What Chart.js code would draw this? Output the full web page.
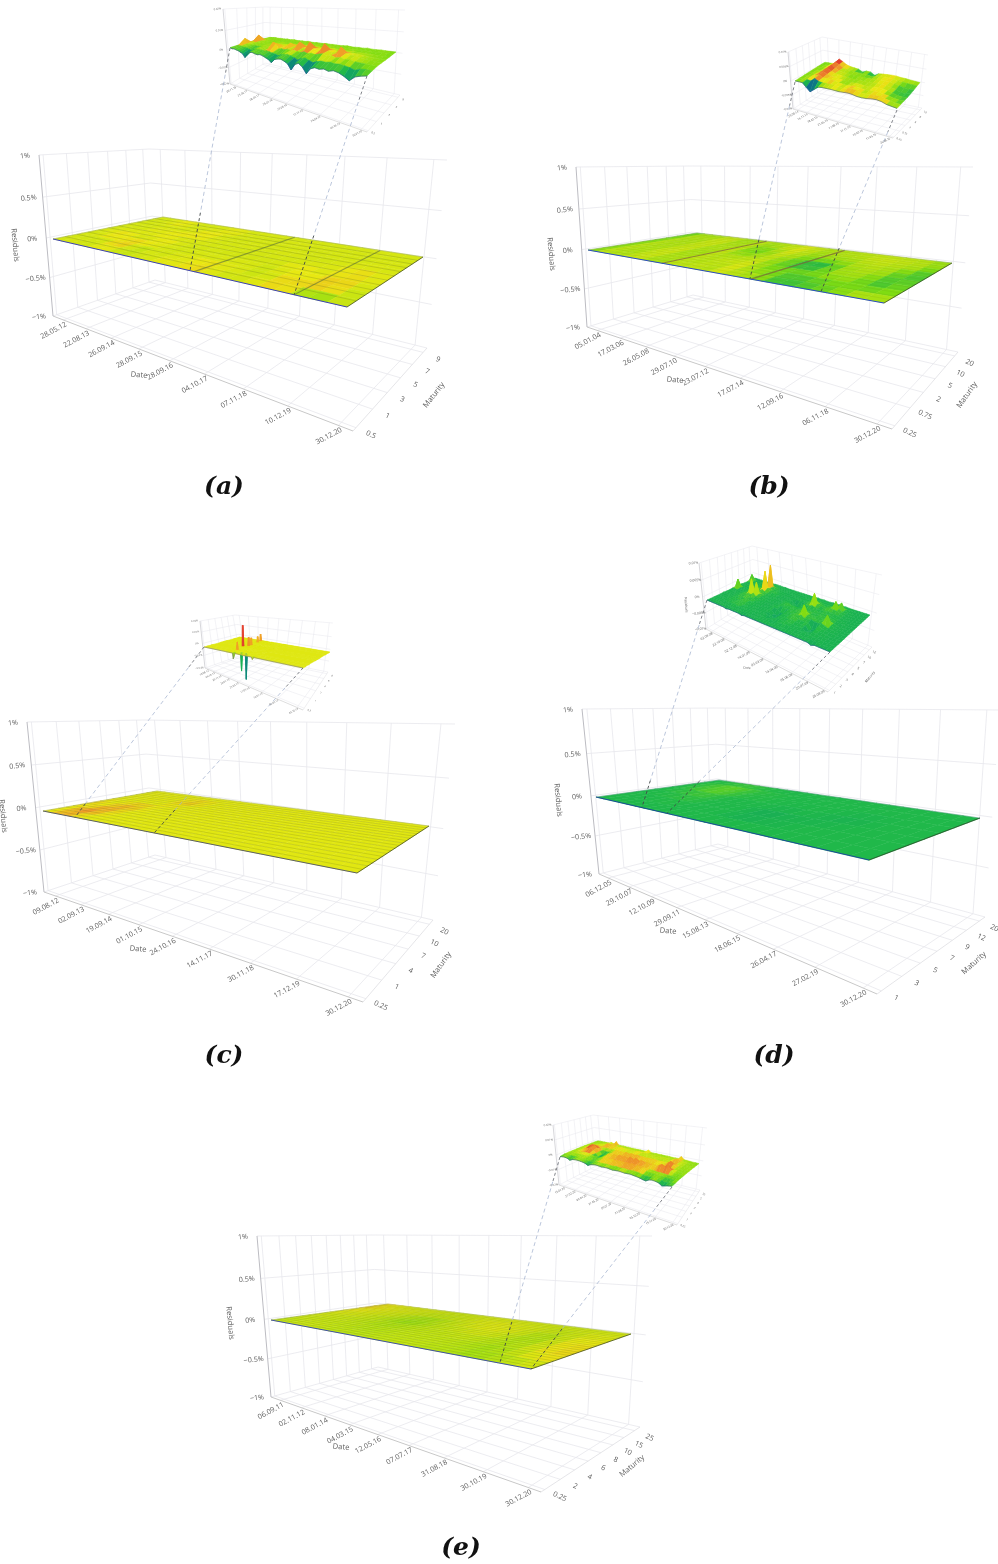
<!DOCTYPE html>
<html><head><meta charset="utf-8">
<style>html,body{margin:0;padding:0;background:#fff}#c{display:block;filter:blur(.4px)}</style>
<script src="https://cdn.jsdelivr.net/npm/chart.js@4"></script></head>
<body><canvas id="c" width="998" height="1564"></canvas>
<script>
// ---------- tick labels ----------
const zTicksMain=["1%","0.5%","0%","−0.5%","−1%"];
const datesA=["28.05.12","22.08.13","26.09.14","28.09.15","28.09.16","04.10.17","07.11.18","10.12.19","30.12.20"];
const datesB=["05.01.04","17.03.06","26.05.08","29.07.10","23.07.12","17.07.14","12.09.16","06.11.18","30.12.20"];
const datesC=["09.08.12","02.09.13","19.09.14","01.10.15","24.10.16","14.11.17","30.11.18","17.12.19","30.12.20"];
const datesD=["06.12.05","29.10.07","12.10.09","29.09.11","15.08.13","18.06.15","26.04.17","27.02.19","30.12.20"];
const datesE=["06.09.11","02.11.12","08.01.14","04.03.15","12.05.16","07.07.17","31.08.18","30.10.19","30.12.20"];
const matsA=["0.5","1","3","5","7","9"];
const matsB=["0.25","0.75","2","5","10","20"];
const matsC=["0.25","1","4","7","10","20"];
const matsD=["1","3","5","7","9","12","20"];
const matsE=["0.25","2","4","6","8","10","15","25"];
const zTicksInsetA=["0.02%","0.01%","0%","−0.01%","−0.02%"];
const zTicksInsetB=["0.01%","0.005%","0%","−0.005%","−0.01%"];
const zTicksInsetC=["0.04%","0.02%","0%","−0.02%","−0.04%"];
const zTicksInsetD=["0.01%","0.005%","0%","−0.005%","−0.01%"];
const zTicksInsetE=["0.02%","0.01%","0%","−0.01%","−0.02%"];
const insetDatesA=["06.11.16","23.04.17","06.09.17","26.01.18","23.06.18","17.11.18","24.04.19","09.09.19","30.01.20"];
const insetDatesB=["23.08.14","16.11.14","18.02.15","21.05.15","17.08.15","11.11.15","10.02.16","11.05.16","26.08.16"];
const insetDatesC=["10.08.12","04.10.12","30.11.12","24.01.13","21.03.13","17.05.13","12.07.13","06.09.13","02.10.13"];
const insetDatesD=["02.09.08","22.10.08","02.12.08","14.01.09","03.03.09","14.04.09","05.06.09","20.07.09","26.08.09"];
const insetDatesE=["15.01.20","27.02.20","09.04.20","27.05.20","09.07.20","21.08.20","05.10.20","19.11.20","30.12.20"];
const insetMatsA=["0.5","1","3","5","9"];
const insetMatsB=["0.25","0.75","2","4","6","10"];
const insetMatsC=["0.5","1","2","4","6","8"];
const insetMatsD=["1","2","3","4","5","7","10","12"];
const insetMatsE=["0.25","1","2","3","4","5","10"];

// ---------- residuals, unit 0.001 % (rows: maturity low to high, cols: date) ----------
const surfaceA=[
[.6,.6,.7,.5,.6,.8,.6,.6,.5,.7,.8,1,.6,1.4,.8,.6,.5,.7,.7,.9,.6,-1.5,.6,.6],
[.6,.7,.7,.6,.7,1.2,.8,.2,.6,.6,.6,1,.7,1.5,1,.7,.7,.6,1.1,2,.7,1,.2,.6],
[.6,.6,.5,.7,.6,2,1.2,.4,.7,.7,.6,.7,.7,.8,.7,.8,.6,.3,.6,.9,1.2,2.5,.7,.6],
[.7,.7,1,1.6,.7,.8,.7,1.4,.7,.6,.6,.7,.6,.6,.7,.6,.7,.7,1.3,.8,.7,1,.7,.7],
[.6,.7,.8,.7,.6,.7,.7,.7,.8,.7,.6,.6,.7,.6,.6,.6,.6,.6,.7,.8,.7,1.6,1.2,.6],
[.6,.6,.7,.7,1,.7,1.4,.7,.6,.7,.7,.7,.6,.7,.6,.7,.7,.7,.6,.7,.7,.8,.7,.7],
[.7,.7,.6,.6,.8,.7,.7,.9,1.5,.8,.6,.6,.7,.7,.6,.6,.7,.6,.6,.6,.7,.7,.7,.6],
[.6,.6,.7,.7,.7,.6,.7,.7,.7,.7,.7,.6,.6,.6,.7,.7,.6,.6,.7,.7,.6,.6,.7,.7],
[.6,.7,.6,1,1.2,.7,.6,.7,.8,1.2,.7,.7,.7,.6,.6,.7,.7,.7,.6,.6,.7,.7,.6,.6],
[.7,.6,.7,.7,.7,.6,.7,.6,.6,.7,.6,.6,.7,.7,.7,.6,.6,.6,.7,.7,.6,.7,.7,.7]];
const surfaceB=[
[-.8,-.5,.1,-.6,0,-.3,.2,-.9,.1,-.4,.1,-.3,0,.2,-.5,.2,-1.2,-1.6,-1.4,-1.2,-.8,-.3,.1,-.5],
[-.9,-.4,.1,-.7,.1,-.3,.2,-.8,.1,-.5,.1,-.4,-.1,.2,-.6,-.4,-1.4,-1.7,-1.5,-1.2,-.9,-.7,-.5,-.6],
[-.8,-.5,0,-.6,0,-.2,.1,-.7,.2,-.5,0,-.3,.2,.1,-.7,-.7,-1,-1.2,-1,-.7,-.6,-1.2,-1.4,-.6],
[-.8,-.4,.1,-.6,.1,-.2,.2,-.9,.1,-.4,.1,-.3,.1,-.2,-.8,-1,-1.1,-.8,-.5,-.3,-.6,-1.3,-1.6,-.6],
[-.9,-.5,0,-.7,0,-.3,.2,-.8,.1,-.4,-.3,-.5,0,-.3,-.8,-1.6,-2.6,-2,-.6,-.3,-.4,-.5,-1.8,-.8],
[-1,-.5,.1,-.6,.1,-.3,.1,-.7,.2,-.4,-.8,-.7,-.2,-.1,-.7,-1.1,-1.4,-1.1,-.5,-.2,-.3,-.5,-1.5,-1.4],
[-1,-.6,0,-.7,0,-.2,.2,-.7,.1,-.5,-1,-.8,-.1,.1,-.5,-.6,-.5,-.5,-.3,-.1,-.2,-.3,-.5,-1.6],
[-1.1,-.6,.1,-.6,.1,-.2,.1,-.8,.1,-.5,-.6,-.3,.1,.1,-.4,-.4,-.3,-.3,-.2,0,-.1,-.2,-.3,-.8],
[-1.1,-.7,0,-.7,.1,-.3,.1,-.8,.1,-.5,-.2,-.2,.1,.2,-.3,-.3,-.2,-.2,-.1,0,-.1,-.1,-.3,-.6],
[-1.2,-.7,-.1,-.7,0,-.3,0,-.8,0,-.5,-.2,-.3,0,.1,-.3,-.3,-.3,-.2,-.2,-.1,-.2,-.2,-.3,-.7]];
const surfaceC=[
[0,0,1,.4,0,0,0,0,0,0,0,0,0,0,0,0,0,0,0,0,0,0,0,0],
[0,.6,2.5,1.2,0,0,0,0,0,0,0,0,0,0,0,0,0,0,0,0,0,0,0,0],
[0,0,1.5,1.8,1,0,0,0,0,0,0,0,0,0,0,0,0,0,0,0,0,0,0,0],
[1,0,.5,1.2,.8,0,0,0,0,0,0,0,0,0,0,0,0,0,0,0,0,0,0,0],
[.8,0,0,1,1.4,.6,0,0,0,0,0,0,0,0,0,0,0,0,0,0,0,0,0,0],
[0,0,0,0,0,0,0,0,0,0,0,0,0,0,0,0,0,0,0,0,0,0,0,0],
[0,0,0,0,0,0,.8,0,0,0,0,0,0,0,0,0,0,0,0,0,0,0,0,0],
[0,0,0,0,0,0,1,1,0,0,0,0,0,0,0,0,0,0,0,0,0,0,0,0],
[0,0,0,0,0,0,0,0,0,0,0,0,0,0,0,0,0,0,0,0,0,0,0,0],
[0,0,0,0,0,0,0,0,0,0,0,0,0,0,0,0,0,0,0,0,0,0,0,0]];
const surfaceD=[
[-2,-2,-2,-2,-2,-2,-2,-2,-2,-2,-2,-2,-2,-2,-2,-2,-2,-2,-2,-2,-2,-2,-2,-2],
[-2,-2,-2,-2,-2,-2,-2,-2,-2,-2,-2,-2,-2.1,-2.1,-2,-2,-2.1,-2,-2,-2,-2,-2,-2,-2],
[-2,-2,-2,-2,-1.9,-1.9,-1.8,-2,-2,-2,-2,-2.1,-2.5,-2.6,-2.5,-2.3,-2.2,-2,-2,-2,-2,-2,-2,-2],
[-2,-2,-1.9,-1.8,-1.7,-1.6,-1.7,-1.9,-2,-2,-2,-2,-2.2,-2.3,-2.2,-2.1,-2.2,-2.3,-2.2,-2.1,-2,-2,-2,-2],
[-2,-1.9,-1.7,-1.6,-1.4,-1.3,-1.6,-1.9,-2,-2,-2,-2,-2,-2.1,-2,-2,-2.1,-2.2,-2.3,-2.2,-2,-2,-2,-2],
[-2,-1.8,-1.4,-1,-.6,-.8,-1.2,-1.6,-1.8,-1.8,-1.9,-2,-2,-2,-2,-2,-2,-2,-2,-2,-2,-2,-2,-2],
[-2,-1.9,-1.6,-1.5,-1.2,-1.3,-1.6,-1.8,-1.9,-2,-2,-2,-2,-2,-2,-2,-2,-2,-2,-2,-2,-2,-2,-2],
[-2,-2,-1.9,-1.9,-1.8,-1.8,-1.9,-2,-2,-2,-2,-2,-2,-2,-2,-2,-2,-2,-2,-2,-2,-2,-2,-2]];
const surfaceE=[
[-.2,-.2,-.1,0,0,0,-.1,-.2,-.2,-.3,-.2,-.2,-.2,-.2,-.1,-.1,-.3,-.2,-.4,-.6,-.5,-.4,-.3,-.1],
[0,-.1,-.1,0,-.1,-.1,-.2,-.2,-.3,-.3,-.3,-.2,-.1,-.1,-.2,-.2,-.4,-.3,-.7,-.8,-.4,-.1,.3,.6],
[.1,0,0,-.1,-.1,-.2,-.2,-.3,-.4,-.4,-.3,-.2,-.2,-.2,-.2,-.1,-.2,-.3,-.5,-.4,-.1,.3,.8,1],
[.2,.2,.1,.1,0,-.2,-.3,-.4,-.6,-.6,-.4,-.3,-.2,-.1,-.1,0,0,-.2,-.3,-.5,-.2,.4,1,.9],
[.5,.4,.3,.2,.1,0,-.2,-.5,-.8,-1,-.7,-.3,-.1,0,.2,.3,.3,.1,-.2,-.6,-.3,.3,.8,.5],
[1,.7,.5,.3,.2,.2,0,-.2,-.3,-.3,-.2,-.1,.1,.3,.4,.4,.3,.2,0,-.3,-.2,.2,.5,.3],
[1.5,1,.6,.4,.3,.2,.2,.1,0,0,0,.1,.2,.2,.3,.3,.2,.1,.1,0,0,.1,.2,.2],
[.5,.4,.3,.2,.2,.1,.1,.1,0,0,0,0,.1,.1,.1,.1,.1,.1,0,0,0,.1,.1,.1]];

const insetA=[
[.2,-.2,0,-.3,-.5,-1,-1.5,-3,-1,-.2,0,-.3,-.5,-.2,-.5,-1,-1.5,-2.5,-1,-.5,-.3,-.8,-1.5,-3.5,-1.2,-.5,-1.5,-3.5,-1.5,-.8,-1,-.6,-1,-.5,-.8,-1.5,-2.5,-1,-.4,0],
[.4,.7,.5,.4,.3,.1,-.3,-.8,0,.5,.6,.4,.3,.6,.3,0,-.2,-.6,0,.4,.6,.3,-.2,-.8,0,.5,-.1,-.7,0,.4,.3,.6,.3,.5,.3,0,-.5,.2,.4,.3],
[.6,3.5,.9,.7,.6,.5,.6,.5,.7,.9,.7,.9,.8,3.5,3,1,1.2,1,1.4,1,1.5,1.1,.9,1.4,1,1.3,1,1.5,1.8,1.2,1.6,1.1,1.4,1,1.2,.8,.7,.6,.5,.5],
[.7,1,1.4,.9,.7,.6,.7,.6,.7,.8,1,1.2,1,1.4,1.5,1.3,1.8,3,1.6,1.8,4,1.7,1.5,4.5,2,1.6,2,4.5,2,1.5,1.6,4,1.8,1.4,1.5,1.1,.9,.7,.6,.5],
[.6,.9,4,1,.8,.7,.6,.5,.6,.8,.9,1,.8,.9,1,.8,1,1.3,1.1,1.3,1.5,1.2,1.4,1.6,1.3,1.4,1.2,1.6,1.3,1.2,1.3,1.4,1.1,1.1,1,.9,.7,.6,.5,.4],
[.6,.6,1,.7,.6,.5,.4,.5,.6,.5,.6,.5,.6,.5,.4,.6,.5,.7,.6,.7,.6,.8,.6,.7,.6,.8,.7,.8,.6,.7,.8,.6,.7,.6,.6,.5,.5,.4,.4,.4],
[.4,.6,.6,.4,.5,.6,.4,.6,.5,.4,.5,.6,.4,.5,.6,.4,.5,.4,.6,.5,.4,.6,.5,.4,.6,.5,.6,.4,.5,.6,.4,.5,.4,.6,.5,.4,.5,.6,.4,.4],
[.4,.4,.6,.6,.4,.5,.4,.4,.6,.4,.5,.6,.4,.4,.5,.4,.6,.4,.4,.5,.4,.4,.6,.4,.5,.4,.4,.5,.6,.4,.4,.5,.4,.6,.4,.4,.5,.4,.4,.4]];
const insetB=[
[.5,.6,.6,-1,-2.5,-1,.5,.8,.9,1,1,1,1.2,1.4,1.3,1,1,1.2,1.6,1.8,1.6,1,.8,.6],
[.5,.6,.7,.5,2,1.2,1,1.2,1.2,1.3,1,1,1.4,1.7,1.5,1.1,1,1.2,1.4,1.6,1.2,.8,.6,.5],
[.5,.6,.8,1.6,2.4,1.5,1.5,1.6,1.4,1,.8,.8,1,1.2,1,.8,1,1.2,1.3,1,.8,.4,.2,.4],
[.5,.6,.8,1.6,2.6,1.7,1.4,1.3,1,.8,.6,.7,.8,.8,.7,.8,1,1.3,1.2,.9,.5,0,-.1,.3],
[.5,.6,.7,1.5,2.8,1.8,1.2,1,.8,.7,.6,.6,.7,.7,.7,.9,1.1,1.3,1.2,.9,.5,-.2,-.3,.3],
[.5,.5,.7,1.5,3,2,1.1,.9,.7,.7,.5,.6,.6,.7,.8,1,1.2,1.3,1.2,1,.7,.2,0,.4],
[.5,.5,.6,1.3,3.2,2.4,1.2,.8,.7,.6,.5,.5,.6,.2,.7,1,1.2,1.3,1.2,1,.9,.7,.6,.6],
[.4,.5,.6,1,3.5,2.6,1.5,1,.8,.6,-.3,.5,.5,-.6,.5,.8,1,1.2,1.2,1,1,.8,.7,.6]];
// inset (c) has a few isolated spikes, so its dates and maturities are listed as fractions of the axis
const insetCDateAt=[0,.265,.276,.287,.3,.312,.323,.34,.35,.36,.4,.41,.42,.45,.46,.47,.54,.55,.56,1];
const insetCMatAt=[0,.05,.07,.09,.17,.19,.21,.41,.43,.45,.49,.51,.53,.56,.58,.6,.8,.82,.84,.93,.95,.97,1];
const insetC=[
[0,0,0,0,0,0,0,0,-8,0,0,0,0,0,0,0,0,-3,0,0],
[0,0,0,0,0,0,0,0,0,0,0,0,0,0,0,0,0,0,0,0],
[0,0,0,0,0,0,0,0,0,0,0,-25,0,0,-35,0,0,0,0,0],
[0,0,0,0,0,0,0,0,0,0,0,0,0,0,0,0,0,0,0,0],
[0,0,0,0,0,0,0,0,0,0,0,0,0,0,0,0,0,0,0,0],
[0,0,0,0,0,12,0,0,0,0,0,0,0,0,0,0,0,0,0,0],
[0,0,0,0,0,0,0,0,0,0,0,0,0,0,0,0,0,0,0,0],
[0,0,0,0,0,0,0,0,0,0,0,0,0,0,0,0,0,0,0,0],
[0,0,33,0,0,0,0,0,0,0,0,0,0,0,0,0,0,0,0,0],
[0,0,0,0,0,0,0,0,0,0,0,0,0,0,0,0,0,0,0,0],
[0,0,0,0,0,0,0,0,0,0,0,0,0,0,0,0,0,0,0,0],
[0,0,0,0,0,14,0,0,0,0,0,0,0,0,0,0,0,0,0,0],
[0,0,0,0,0,0,0,0,0,0,0,0,0,0,0,0,0,0,0,0],
[0,0,0,0,0,0,0,0,0,0,0,0,0,0,0,0,0,0,0,0],
[0,0,0,0,0,12,0,0,0,0,0,0,0,0,0,0,0,0,0,0],
[0,0,0,0,0,0,0,0,0,0,0,0,0,0,0,0,0,0,0,0],
[0,0,0,0,0,0,0,0,0,0,0,0,0,0,0,0,0,0,0,0],
[0,0,0,0,10,0,0,0,0,0,0,0,0,0,0,0,0,0,0,0],
[0,0,0,0,0,0,0,0,0,0,0,0,0,0,0,0,0,0,0,0],
[0,0,0,0,0,0,0,0,0,0,0,0,0,0,0,0,0,0,0,0],
[0,0,0,12,0,0,0,0,0,0,0,0,0,0,0,0,0,0,0,0],
[0,0,0,0,0,0,0,0,0,0,0,0,0,0,0,0,0,0,0,0],
[0,0,0,0,0,0,0,0,0,0,0,0,0,0,0,0,0,0,0,0]];
const insetD=[
[0,0,0,0,0,0,0,0,-.2,0,0,0,0,0,-.2,0,0,0,0,0,0,0,0,0,0,0,0,0,0,0,0,0,0,0,0,0,-.3,0,0,0,0,0],
[0,0,0,.1,0,.1,0,.2,0,.1,.2,0,.2,0,.1,0,0,0,.1,0,.1,0,.2,0,.1,.1,0,.2,0,.2,.1,0,.2,0,.1,.1,0,.1,0,0,0,0],
[0,.1,0,0,.1,.2,.1,.3,.2,.4,.1,.3,.1,.2,0,.1,0,0,.1,.2,0,.1,.2,-.2,.1,.2,.1,.4,.2,.1,.2,.1,.3,.1,.2,.1,.1,0,0,0,0,0],
[0,0,.1,0,.2,.1,.4,.2,.6,.3,.8,.2,.3,.1,.2,0,.1,0,0,.2,.1,-.3,-.2,.2,.3,.1,.5,.2,.3,.2,.2,.3,-.3,-.2,.3,.2,.1,.1,0,0,0,0],
[0,0,0,.1,.1,.3,.2,.5,.3,.7,.3,.5,.2,.2,.1,.1,0,0,.1,.1,-.4,-.6,-.3,.3,.2,.4,.3,.6,.4,.3,.2,.4,-.6,-.5,.4,.2,.2,.1,0,0,0,0],
[.1,0,0,0,.2,.2,.5,.4,.8,.5,1,.4,.4,.2,.2,.1,.1,0,0,.2,-.5,-.7,-.4,.4,.3,.5,.6,.9,.5,.4,.3,.6,-.7,-.6,.6,.3,.2,.1,.1,0,0,0],
[0,.1,0,.1,.1,.3,.4,.8,.6,1.2,.6,.8,.3,.3,.1,.1,0,.1,.1,.4,.2,-.4,-.3,.4,.5,.4,.8,.6,1,.5,.6,.8,.6,.5,.8,.5,.2,.2,.1,0,0,0],
[0,0,.1,0,.2,.2,.6,.5,1,.8,1.4,.8,.5,.2,.2,.1,.1,0,.2,.3,.5,.6,.3,.5,.4,.7,.6,1,3,.8,.5,.7,.6,.6,.9,2.5,.4,.2,.1,0,0,0],
[.1,.1,0,.1,.1,.3,.5,.9,4.5,1,4,1,.6,.4,.2,.1,.1,.1,0,.2,.3,.4,.6,.4,.6,.5,.8,.6,.9,.5,.4,.5,.7,.5,.7,.6,.3,.1,0,0,0,0],
[.2,2.5,.2,.1,.1,.2,.4,.6,.8,.9,.8,.7,.5,.3,.3,.2,.1,0,.1,.3,.5,.7,.4,.3,.4,.3,.5,.4,.6,.4,.5,.4,.6,.5,.6,.5,.3,.2,.1,0,0,0],
[.1,.3,.1,0,.1,.2,.3,.5,.6,.8,1.2,.9,.6,.4,.2,.1,0,.1,.1,.2,.1,.3,-.2,-.3,.2,.4,.2,.3,.5,.6,.4,.5,.4,.6,.4,.3,.2,.1,0,0,0,0],
[.1,.1,0,.1,.1,.1,.3,.5,.9,1.2,6,1.4,.8,.6,.4,.2,.1,0,.1,.1,.2,-.3,-.6,-.5,.2,.3,.5,.8,.6,.5,.3,.5,.7,.6,.5,.4,.2,.1,0,0,0,0],
[0,0,.1,0,0,.1,.2,.4,.6,.8,1.2,1,.7,.4,.3,.2,.1,.1,0,.1,.1,.2,.1,.2,.3,.6,1.2,3.5,1,.7,.5,.8,1.1,.9,.8,.5,.2,.1,0,0,0,0],
[0,.1,0,0,.1,.1,.2,.3,.5,.7,7,1,.6,.3,.2,.1,0,0,.1,0,.1,.1,.2,.1,.2,.4,.6,1,.6,.4,.3,.6,.9,2.5,1,.4,.2,.1,0,0,0,0],
[.2,2,.2,.1,0,.1,.1,.2,.3,.4,.5,.4,.3,.2,.1,.1,0,0,0,.1,0,.1,.1,.2,.1,.3,.2,.4,.3,.2,.2,.3,.4,.6,2,.3,.1,0,0,0,0,0],
[0,.2,.1,0,0,0,.1,.1,.2,.2,.3,.2,.2,.1,.1,0,0,.1,0,0,.1,0,.1,.1,.1,.1,.2,.1,.2,.1,.1,.1,.2,.2,.2,.1,.1,0,0,0,0,0],
[0,0,0,0,0,0,0,.1,0,.1,.1,.1,0,.1,0,0,0,0,0,0,0,0,0,0,0,.1,0,.1,0,0,.1,0,.1,0,.1,0,0,0,0,0,0,0]];
const insetE=[
[.3,.6,.7,.4,-.4,.5,.8,.9,.8,.6,.2,-.6,.3,.7,1,.9,.7,.9,1,.8,.6,.8,1,.9,.7,.8,1,.7,.5,.2,-.3,-.6,.5,.9,.7,.3,-1,-.4,.1,.4],
[.9,1,1.1,1.2,.9,1.1,1.3,1.1,.9,.7,.4,.1,.9,1.2,1.4,1.2,1.3,1.5,1.2,1.3,1.5,1.3,1.4,1.6,1.3,1.4,1.6,1.4,1.2,.8,.5,.3,.8,1.1,.8,.4,-.4,0,.4,.6],
[1,1.2,1.3,1.4,1.4,1.5,1.6,1.5,1.2,1,.7,.6,1.2,1.3,3,1.4,3,1.5,3.5,1.6,3.5,1.6,4,1.7,4,1.8,3.5,1.7,3,1.5,1.2,1,1,1.2,1,.7,.4,.5,.7,.9],
[1.1,1.3,1.4,1.5,1.6,1.8,2,1.8,1.4,.8,.3,.5,1.1,1.3,1.5,1.4,1.6,1.5,1.7,1.5,1.7,1.6,1.8,1.6,1.7,1.6,1.7,1.6,1.5,1.4,1.3,1.1,1,1,.9,.7,.6,.6,.8,1],
[1.1,1.3,1.5,2,3,3.5,4.5,3,1.2,-.5,-.8,.6,1.4,3,1.6,3.5,1.7,4,1.7,4,1.8,4.5,1.8,4.5,1.8,4,1.7,3.5,1.6,3,2,3.5,4.5,3.5,5,2,1,.9,1,1],
[1.2,1.4,1.6,2.5,4,5,5,3.5,1.5,-.3,-.6,.8,1.3,1.5,1.6,1.7,1.6,1.8,1.7,1.8,1.7,1.8,1.7,1.8,1.7,1.7,1.6,1.6,1.5,1.5,1.6,1.8,2,1.8,2,1.4,1.1,1,1,1.1],
[1.2,1.3,1.5,2,2.8,3.5,3,2,1.3,.8,.9,1.3,1.5,3,1.7,3,1.7,3.5,1.8,3.5,1.8,3.5,1.8,3,1.7,3,1.7,3,1.6,2.5,1.5,2,3,4.5,3,1.5,1.1,1.1,1.1,1.1],
[1.2,1.2,1.4,1.6,1.8,2,1.8,1.7,1.6,1.5,1.4,1.5,1.5,1.6,1.5,1.6,1.5,1.6,1.5,1.6,1.5,1.6,1.5,1.5,1.5,1.5,1.5,1.5,1.4,1.5,1.5,1.6,1.7,1.8,1.6,1.4,1.2,1.2,1.2,1.1],
[1.1,1.2,1.3,1.3,1.5,1.7,2,3.5,1.8,3,1.6,1.9,2.5,1.7,2,1.6,1.8,1.6,1.9,2.5,1.7,1.6,1.7,1.5,1.6,1.5,1.6,1.5,1.6,1.5,1.6,1.5,2.5,3.5,1.8,1.5,1.2,1.1,1.1,1],
[1,1.1,1.2,1.2,1.3,1.4,1.5,1.6,1.5,1.6,1.4,1.5,1.4,1.3,1.4,1.3,1.4,1.3,1.4,1.4,1.3,1.3,1.4,1.3,1.3,1.4,1.3,1.3,1.3,1.3,1.4,1.3,1.5,1.6,1.4,1.3,1.2,1.1,1,1],
[.9,1,1,1.1,1.1,1.2,2,1.3,3.5,1.3,1.2,1.3,1.2,1.2,1.1,1.2,1.1,1.2,1.2,1.1,1.2,2.5,1.2,1.1,1.2,1.1,1.2,1.1,1.2,1.2,1.1,1.2,1.3,3,1.3,1.2,1.1,1,1,.9]];

// ---------- layout of the five panels ----------
const panels=[
{cap:"(a)",capPos:[224,487],
 main:{dates:datesA,mats:matsA,z:zTicksMain,surf:surfaceA,range:[-7,4.3],lift:.08,
  floor:[[53,316],[353,431],[427,348],[155,280]],top:{A:[39,155],D:[149,149],C:[447,160]},
  plane:[[53,239],[347,307],[423,257],[163,217]],rows:11,meshA:.4,mesh:"90,100,40",edge:"#3a40b8",
  streak:[.48,.82],streakC:"rgba(90,110,60,.6)",
  zTitle:[15,245],dTitle:[139,375],mTitle:[434,395,-52]},
 inset:{dates:insetDatesA,mats:insetMatsA,z:zTicksInsetA,surf:insetA,range:[-6,5],lift:2,font:2.7,
  floor:[[230,84],[367,132],[400,95],[265,63]],top:{A:[223,9],D:[265,7],C:[405,10]},
  plane:[[230,48],[367,76],[396,53],[270,38]]},
 conn:[.466,.82],dark:[.26,.27]},
{cap:"(b)",capPos:[769,487],
 main:{dates:datesB,mats:matsB,z:zTicksMain,surf:surfaceB,range:[-6,3],lift:.08,
  floor:[[587,327],[892,429],[958,352],[693,295]],top:{A:[576,167],D:[690,166],C:[973,167]},
  plane:[[588,250],[884,303],[952,263],[697,233]],rows:16,meshA:.15,mesh:"70,90,40",edge:"#2a4ac8",
  streak:[.25,.55],streakC:"rgba(125,95,60,.7)",
  zTitle:[551,254],dTitle:[675,380],mTitle:[967,395,-55]},
 inset:{dates:insetDatesB,mats:insetMatsB,z:zTicksInsetB,surf:insetB,range:[-3,3],lift:2.2,font:2.8,
  floor:[[793,109],[893,138],[922,108],[825,88]],top:{A:[788,52],D:[822,37],C:[928,55]},
  plane:[[795,82],[897,110],[920,84],[825,63]]},
 conn:[.547,.787],dark:[.2,.24]},
{cap:"(c)",capPos:[224,1056],
 main:{dates:datesC,mats:matsC,z:zTicksMain,surf:surfaceC,range:[-9,4],lift:.08,
  floor:[[44,892],[363,1002],[433,920],[155,855]],top:{A:[27,722],D:[143,720],C:[455,724]},
  plane:[[43,811],[357,873],[429,826],[157,791]],rows:18,meshA:.3,mesh:"80,90,30",edge:"#5a5f68",
  streak:[],streakC:"",
  zTitle:[3,816],dTitle:[138,949],mTitle:[441,965,-55]},
 inset:{dates:insetDatesC,mats:insetMatsC,z:zTicksInsetC,surf:insetC,range:[-40,18],lift:.65,font:2.5,
  colAt:insetCDateAt,rowAt:insetCMatAt,
  floor:[[205,668],[303,710],[328,672],[242,655]],top:{A:[200,621],D:[235,615],C:[333,623]},
  plane:[[204,647],[303,668],[330,652],[240,637]]},
 conn:[.102,.354],dark:[.08,.14]},
{cap:"(d)",capPos:[774,1056],
 main:{dates:datesD,mats:matsD,z:zTicksMain,surf:surfaceD,range:[-8,5.3],lift:.08,
  floor:[[599,874],[877,994],[985,917],[718,844]],top:{A:[582,709],D:[715,708],C:[1000,710]},
  plane:[[596,797],[869,860],[980,818],[719,780]],rows:0,meshA:0,mesh:"0,0,0",edge:"#1a4a9a",
  streak:[],streakC:"",
  zTitle:[558,800],dTitle:[668,931],mTitle:[974,963,-42]},
 inset:{dates:insetDatesD,mats:insetMatsD,z:zTicksInsetD,surf:insetD,range:[-6,8],lift:3.7,font:3.4,
  floor:[[706,629],[828,692],[872,647],[755,598]],top:{A:[699,563],D:[752,546],C:[882,575]},
  plane:[[707,600],[830,652],[870,615],[755,578]],
  zTitle:[686,605],dTitle:[747,668],mTitle:[870,677,-50]},
 conn:[.168,.26],dark:[.13,.2]},
{cap:"(e)",capPos:[461,1548],
 main:{dates:datesE,mats:matsE,z:zTicksMain,surf:surfaceE,range:[-10,5],lift:.08,
  floor:[[271,1397],[541,1492],[640,1427],[378,1367]],top:{A:[257,1236],D:[373,1235],C:[652,1236]},
  plane:[[271,1320],[531,1369],[631,1334],[388,1304]],rows:22,meshA:.3,mesh:"80,100,30",edge:"#3f50a8",
  streak:[],streakC:"",
  zTitle:[230,1323],dTitle:[341,1447],mTitle:[632,1466,-40]},
 inset:{dates:insetDatesE,mats:insetMatsE,z:zTicksInsetE,surf:insetE,range:[-5,5],lift:1.5,font:2.8,
  floor:[[559,1185],[677,1225],[700,1190],[598,1165]],top:{A:[553,1125],D:[593,1115],C:[707,1128]},
  plane:[[560,1157],[672,1187],[699,1165],[598,1142]]},
 conn:[.88,1],dark:[.2,.22]}
];

// ---------- helpers ----------
function quadMap(q){
 const [x0,y0]=q[0],[x1,y1]=q[1],[x2,y2]=q[2],[x3,y3]=q[3];
 const dx1=x1-x2,dx2=x3-x2,sx=x0-x1+x2-x3,dy1=y1-y2,dy2=y3-y2,sy=y0-y1+y2-y3;
 const den=dx1*dy2-dx2*dy1,g=(sx*dy2-dx2*sy)/den,h=(dx1*sy-sx*dy1)/den;
 const a=x1-x0+g*x1,b=x3-x0+h*x3,d=y1-y0+g*y1,e=y3-y0+h*y3;
 return (u,v)=>{const w=g*u+h*v+1;return [(a*u+b*v+x0)/w,(d*u+e*v+y0)/w,1/w];};
}
const stops=[[0,[8,16,140]],[.2,[10,70,165]],[.35,[14,158,106]],[.45,[31,184,74]],[.58,[127,220,18]],[.7,[232,232,18]],[.82,[240,160,40]],[1,[226,64,46]]];
function colour(t){
 t=Math.max(0,Math.min(1,t));
 for(let i=1;i<stops.length;i++) if(t<=stops[i][0]){
  const [a,ca]=stops[i-1],[b,cb]=stops[i],f=(t-a)/(b-a);
  return "rgb("+ca.map((c,k)=>Math.round(c+(cb[k]-c)*f)).join(",")+")";
 }
 return "rgb(226,64,46)";
}
const paint=[],texts=[];
const P=(p)=>({x:p[0],y:p[1]});
function line(pts,color,width,dash){
 paint.push({data:pts.map(P),showLine:true,borderColor:color,borderWidth:width,borderDash:dash||[],pointRadius:0,fill:false,tension:0,clip:false,spanGaps:true});
}
function label(text,x,y,size,rot,align,color){texts.push({text,x,y,size,rot:rot||0,align:align||"center",color:color||"#5c5c5c"});}

function scene(S,isInset){
 const fs=isInset?S.font:7.2, f=S.floor, t=S.top;
 const floor=quadMap(f);
 const w1=quadMap([f[0],f[3],t.D,t.A]), w2=quadMap([f[3],f[2],t.C,t.D]);
 const dN=S.dates.length,mN=S.mats.length;
 const du=i=>.055+.915*i/(dN-1), mv=i=>.03+.9*i/(mN-1);
 const gc="#e7e7ec", gw=isInset?.5:.8;
 S.z.forEach((_,i)=>{const w=i/(S.z.length-1);
  line([w1(0,w),w1(1,w),w2(1,w)],gc,gw);});
 for(let i=0;i<dN;i++){
  line([floor(du(i),0),floor(du(i),1),w2(du(i),1)],gc,gw);
 }
 for(let i=0;i<mN;i++){
  line([floor(1,mv(i)),floor(0,mv(i)),w1(mv(i),1)],gc,gw);
 }
 line([f[0],f[1]],"#c8c8c8",isInset?.6:1);
 line([f[1],f[2]],"#dedee2",gw);
 line([f[0],t.A],"#bcbcc2",isInset?.6:1);
 // tick labels
 const off=isInset?.33:1;
 S.z.forEach((s,i)=>{const w=1-i/(S.z.length-1),p=w1(0,w);
  label(s,p[0]-(isInset?5.5:14),p[1]+(isInset?0:1),fs,-6);});
 S.dates.forEach((s,i)=>{const p=floor(du(i),0);
  label(s,p[0]+3*off,p[1]+4*off,fs,-28,"right");});
 S.mats.forEach((s,i)=>{const p=floor(1,mv(i));
  label(s,p[0]+15*off,p[1]+7*off,fs,25);});
 if(S.zTitle) label("Residuals",S.zTitle[0],S.zTitle[1],isInset?fs:7.6,85);
 if(S.dTitle) label("Date",S.dTitle[0],S.dTitle[1],isInset?fs:7.6,5);
 if(S.mTitle) label("Maturity",S.mTitle[0],S.mTitle[1],isInset?fs:7.6,S.mTitle[2]);
 // surface, far rows first, left columns first
 const pl=quadMap(S.plane), M=S.surf, R=M.length, C=M[0].length;
 const [lo,hi]=S.range;
 const uAt=c=>S.colAt?S.colAt[c]:c/(C-1), vAt=r=>S.rowAt?S.rowAt[r]:r/(R-1);
 const pt=(r,c)=>{const q=pl(uAt(c),vAt(r));return [q[0],q[1]-M[r][c]*S.lift*q[2]];};
 for(let r=R-2;r>=0;r--) for(let c=0;c<C-1;c++){
  const vals=[M[r][c],M[r][c+1],M[r+1][c+1],M[r+1][c]];
  const mean=vals.reduce((a,b)=>a+b)/4;
  let ext=vals[0]; vals.forEach(v=>{if(Math.abs(v-mean)>Math.abs(ext-mean))ext=v;});
  const col=colour(((isInset?(mean+ext)/2:mean)-lo)/(hi-lo));
  const pts=[pt(r,c),pt(r,c+1),pt(r+1,c+1),pt(r+1,c),pt(r,c)];
  paint.push({data:pts.map(P),showLine:true,cell:true,backgroundColor:col,borderColor:col,borderWidth:.5,pointRadius:0,fill:false,tension:0,clip:false,spanGaps:true});
 }
 if(!isInset){
  for(let i=1;i<S.rows;i++){const v=i/S.rows;
   line([pl(0,v),pl(1,v)],`rgba(${S.mesh},${S.meshA})`,.6);}
  S.streak.forEach(s=>{const u=solveU(pl,S.plane,s);line([pl(u,0),pl(u,1)],S.streakC,1.1);});
  line([S.plane[1],S.plane[2]],"rgba(40,50,30,.85)",.8);
  line([S.plane[0],S.plane[1]],S.edge,1);
  line([S.plane[2],S.plane[3],S.plane[0]],"rgba(120,130,170,.6)",.5);
 }else{
  const fr=[];for(let c=0;c<C;c++)fr.push(pt(0,c));
  line(fr,S.surf===insetC?"#7a7a7a":"rgba(25,60,150,.8)",.6);
 }
 return pl;
}
// date fraction whose point on the front edge lies at fraction s of that edge on the picture
function solveU(pl,q,s){
 const x=q[0][0]+(q[1][0]-q[0][0])*s;let a=0,b=1;
 for(let i=0;i<30;i++){const m=(a+b)/2;if(pl(m,0)[0]<x)a=m;else b=m;}
 return (a+b)/2;
}
panels.forEach(p=>{
 const plM=scene(p.main,false), plI=scene(p.inset,true);
 [0,1].forEach(k=>{
  const u=solveU(plM,p.main.plane,p.conn[k]),end=plM(u,0),start=plI(k,0);
  const d=p.dark[k],mid=[end[0]+(start[0]-end[0])*d,end[1]+(start[1]-end[1])*d];
  const d2=.12,top=[start[0]+(end[0]-start[0])*d2,start[1]+(end[1]-start[1])*d2];
  line([top,mid],"#a9b8d2",.8,[4,3]);
  line([mid,end],"#3f4648",.9,[3,2.5]);
  line([start,top],"#4a4f58",.7,[3,2.5]);
 });
 texts.push({text:p.cap,x:p.capPos[0],y:p.capPos[1],size:25,rot:0,align:"center",color:"#111",cap:true});
});

const cellFill={id:"cellFill",beforeDatasetDraw(chart,args){
 const ds=chart.data.datasets[args.index];
 if(!ds.cell)return;
 const c=chart.ctx;c.save();c.beginPath();args.meta.dataset.path(c);c.closePath();
 c.fillStyle=ds.backgroundColor;c.fill();c.restore();
}};
const textLayer={id:"textLayer",afterDatasetsDraw(chart){
 const c=chart.ctx,sx=chart.scales.x,sy=chart.scales.y;
 texts.forEach(t=>{
  c.save();c.translate(sx.getPixelForValue(t.x),sy.getPixelForValue(t.y));c.rotate(t.rot*Math.PI/180);
  c.font=t.cap?`italic bold ${t.size}px "DejaVu Serif"`:`${t.size}px "Open Sans"`;
  c.fillStyle=t.color;c.textAlign=t.align;c.textBaseline="middle";c.fillText(t.text,0,0);c.restore();
 });
}};
new Chart(document.getElementById("c"),{
 type:"scatter",
 data:{datasets:paint.slice().reverse()},
 options:{responsive:false,animation:false,events:[],parsing:false,layout:{padding:0},
  plugins:{legend:{display:false},tooltip:{enabled:false}},
  scales:{x:{type:"linear",min:0,max:998,display:false},y:{type:"linear",min:0,max:1564,reverse:true,display:false}}},
 plugins:[cellFill,textLayer]
});
</script></body></html>
